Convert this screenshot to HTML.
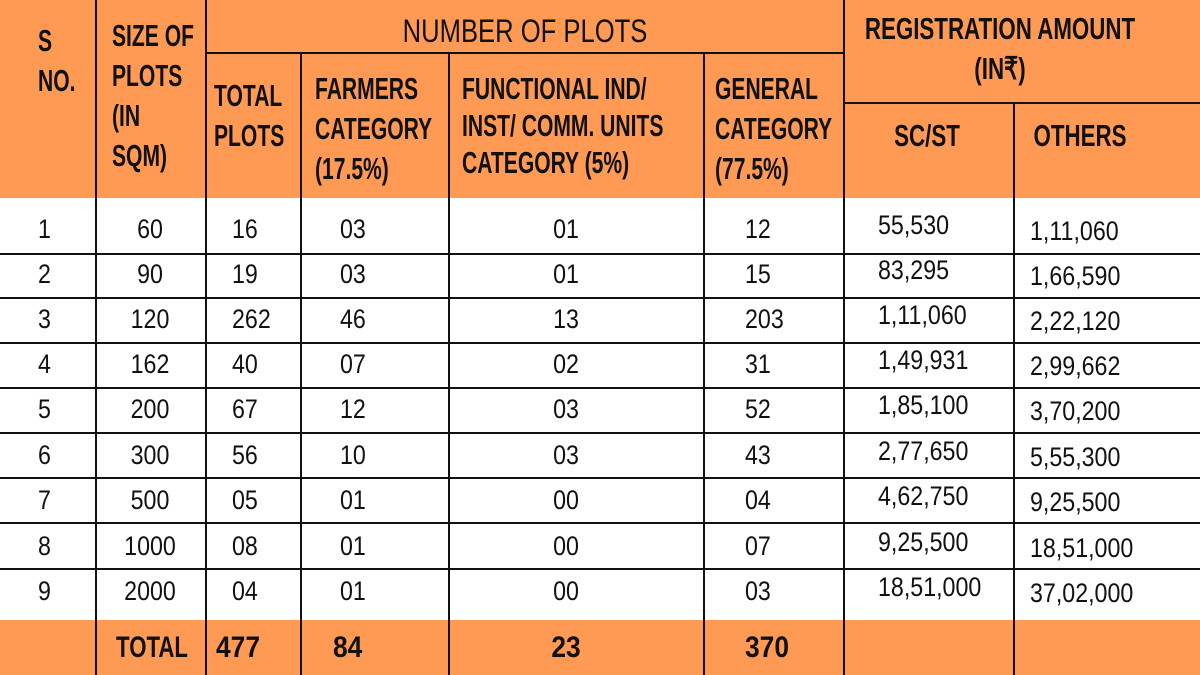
<!DOCTYPE html><html><head><meta charset="utf-8"><style>
body{margin:0;width:1200px;height:675px;position:relative;background:#fff;overflow:hidden;font-family:"Liberation Sans",sans-serif;color:#111}
.o{position:absolute;background:#FF9A55}
.h{position:absolute;background:#111;height:1.5px}
.v{position:absolute;background:#111;width:1.5px}
.t{position:absolute;white-space:nowrap;line-height:1;transform-origin:0 50%;transform:scaleX(.68)}
.d{transform:scaleX(.86)}
.c{transform:translateX(-50%) scaleX(.72);transform-origin:50% 50%}
.d.c{transform:translateX(-50%) scaleX(.86)}
.b{font-weight:bold;font-size:31px}
.d{font-size:27px}
.tt{font-weight:bold;font-size:30px;transform:scaleX(.88)}
</style></head><body>
<div class="o" style="left:0;top:0;width:1200px;height:198px"></div>
<div class="o" style="left:0;top:620px;width:1200px;height:55px"></div>
<div class="h" style="left:205px;top:52px;width:638px"></div>
<div class="h" style="left:843px;top:102px;width:357px"></div>
<div class="v" style="left:95px;top:0;height:675px"></div>
<div class="v" style="left:205px;top:0;height:675px"></div>
<div class="v" style="left:300px;top:52px;height:623px"></div>
<div class="v" style="left:448px;top:52px;height:623px"></div>
<div class="v" style="left:703px;top:52px;height:623px"></div>
<div class="v" style="left:843px;top:0;height:675px"></div>
<div class="v" style="left:1013px;top:102px;height:573px"></div>
<div class="h" style="left:0;top:253px;width:1200px"></div>
<div class="h" style="left:0;top:297px;width:1200px"></div>
<div class="h" style="left:0;top:342px;width:1200px"></div>
<div class="h" style="left:0;top:387px;width:1200px"></div>
<div class="h" style="left:0;top:432px;width:1200px"></div>
<div class="h" style="left:0;top:477px;width:1200px"></div>
<div class="h" style="left:0;top:522px;width:1200px"></div>
<div class="h" style="left:0;top:568px;width:1200px"></div>

<div class="t b" style="left:38px;top:25px">S</div>
<div class="t b" style="left:38px;top:65px">NO.</div>
<div class="t b" style="left:112px;top:20px">SIZE OF</div>
<div class="t b" style="left:112px;top:60px">PLOTS</div>
<div class="t b" style="left:112px;top:100px">(IN</div>
<div class="t b" style="left:112px;top:140px">SQM)</div>
<div class="t c" style="left:525px;top:15px;font-size:32px;transform:translateX(-50%) scaleX(.8)">NUMBER OF PLOTS</div>
<div class="t b" style="left:214px;top:80px">TOTAL</div>
<div class="t b" style="left:214px;top:120px">PLOTS</div>
<div class="t b" style="left:315px;top:73px">FARMERS</div>
<div class="t b" style="left:315px;top:113px">CATEGORY</div>
<div class="t b" style="left:315px;top:153px">(17.5%)</div>
<div class="t b" style="left:462px;top:73px">FUNCTIONAL IND/</div>
<div class="t b" style="left:462px;top:110px">INST/ COMM. UNITS</div>
<div class="t b" style="left:462px;top:147px">CATEGORY (5%)</div>
<div class="t b" style="left:715px;top:73px">GENERAL</div>
<div class="t b" style="left:715px;top:113px">CATEGORY</div>
<div class="t b" style="left:715px;top:153px">(77.5%)</div>
<div class="t b c" style="left:1000px;top:13px">REGISTRATION AMOUNT</div>
<div class="t c" style="left:1000px;top:53px;font-size:31px;font-weight:bold">(IN₹)</div>
<div class="t b c" style="left:927px;top:120px">SC/ST</div>
<div class="t b c" style="left:1080px;top:120px">OTHERS</div>

<div class="t d" style="left:38px;top:216px">1</div><div class="t d c" style="left:150px;top:216px">60</div><div class="t d" style="left:232px;top:216px">16</div><div class="t d" style="left:340px;top:216px">03</div><div class="t d c" style="left:566px;top:216px">01</div><div class="t d" style="left:745px;top:216px">12</div><div class="t d" style="left:878px;top:212px">55,530</div><div class="t d" style="left:1030px;top:218px">1,11,060</div>
<div class="t d" style="left:38px;top:261px">2</div><div class="t d c" style="left:150px;top:261px">90</div><div class="t d" style="left:232px;top:261px">19</div><div class="t d" style="left:340px;top:261px">03</div><div class="t d c" style="left:566px;top:261px">01</div><div class="t d" style="left:745px;top:261px">15</div><div class="t d" style="left:878px;top:257px">83,295</div><div class="t d" style="left:1030px;top:263px">1,66,590</div>
<div class="t d" style="left:38px;top:306px">3</div><div class="t d c" style="left:150px;top:306px">120</div><div class="t d" style="left:232px;top:306px">262</div><div class="t d" style="left:340px;top:306px">46</div><div class="t d c" style="left:566px;top:306px">13</div><div class="t d" style="left:745px;top:306px">203</div><div class="t d" style="left:878px;top:302px">1,11,060</div><div class="t d" style="left:1030px;top:308px">2,22,120</div>
<div class="t d" style="left:38px;top:351px">4</div><div class="t d c" style="left:150px;top:351px">162</div><div class="t d" style="left:232px;top:351px">40</div><div class="t d" style="left:340px;top:351px">07</div><div class="t d c" style="left:566px;top:351px">02</div><div class="t d" style="left:745px;top:351px">31</div><div class="t d" style="left:878px;top:347px">1,49,931</div><div class="t d" style="left:1030px;top:353px">2,99,662</div>
<div class="t d" style="left:38px;top:396px">5</div><div class="t d c" style="left:150px;top:396px">200</div><div class="t d" style="left:232px;top:396px">67</div><div class="t d" style="left:340px;top:396px">12</div><div class="t d c" style="left:566px;top:396px">03</div><div class="t d" style="left:745px;top:396px">52</div><div class="t d" style="left:878px;top:392px">1,85,100</div><div class="t d" style="left:1030px;top:398px">3,70,200</div>
<div class="t d" style="left:38px;top:442px">6</div><div class="t d c" style="left:150px;top:442px">300</div><div class="t d" style="left:232px;top:442px">56</div><div class="t d" style="left:340px;top:442px">10</div><div class="t d c" style="left:566px;top:442px">03</div><div class="t d" style="left:745px;top:442px">43</div><div class="t d" style="left:878px;top:438px">2,77,650</div><div class="t d" style="left:1030px;top:444px">5,55,300</div>
<div class="t d" style="left:38px;top:487px">7</div><div class="t d c" style="left:150px;top:487px">500</div><div class="t d" style="left:232px;top:487px">05</div><div class="t d" style="left:340px;top:487px">01</div><div class="t d c" style="left:566px;top:487px">00</div><div class="t d" style="left:745px;top:487px">04</div><div class="t d" style="left:878px;top:483px">4,62,750</div><div class="t d" style="left:1030px;top:489px">9,25,500</div>
<div class="t d" style="left:38px;top:533px">8</div><div class="t d c" style="left:150px;top:533px">1000</div><div class="t d" style="left:232px;top:533px">08</div><div class="t d" style="left:340px;top:533px">01</div><div class="t d c" style="left:566px;top:533px">00</div><div class="t d" style="left:745px;top:533px">07</div><div class="t d" style="left:878px;top:529px">9,25,500</div><div class="t d" style="left:1030px;top:535px">18,51,000</div>
<div class="t d" style="left:38px;top:578px">9</div><div class="t d c" style="left:150px;top:578px">2000</div><div class="t d" style="left:232px;top:578px">04</div><div class="t d" style="left:340px;top:578px">01</div><div class="t d c" style="left:566px;top:578px">00</div><div class="t d" style="left:745px;top:578px">03</div><div class="t d" style="left:878px;top:574px">18,51,000</div><div class="t d" style="left:1030px;top:580px">37,02,000</div>

<div class="t b c" style="left:152px;top:633px;font-size:30px;transform:translateX(-50%) scaleX(.74)">TOTAL</div>
<div class="t tt" style="left:216px;top:633px">477</div>
<div class="t tt" style="left:333px;top:633px">84</div>
<div class="t tt" style="left:566px;top:633px;transform:translateX(-50%) scaleX(.88);transform-origin:50% 50%">23</div>
<div class="t tt" style="left:745px;top:633px">370</div>
</body></html>
